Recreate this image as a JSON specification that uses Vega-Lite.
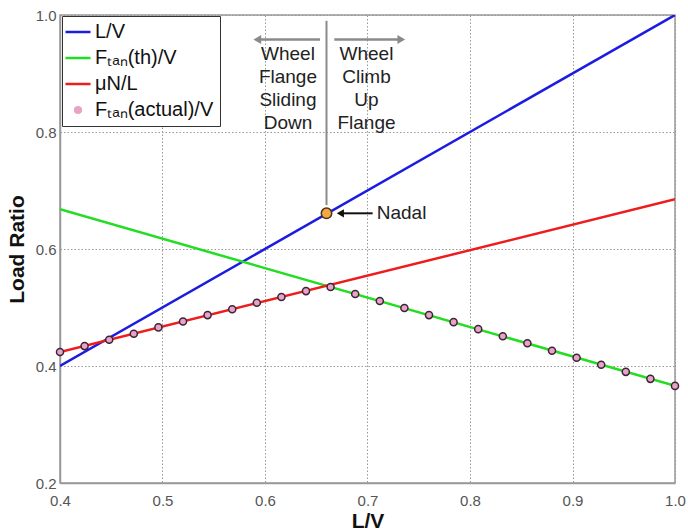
{
  "$schema": "https://vega.github.io/schema/vega-lite/v6.json",
  "width": 615,
  "height": 468,
  "autosize": {"type": "none"},
  "padding": {"left": 60, "top": 15, "right": 13, "bottom": 48},
  "config": {
    "font": "Liberation Sans",
    "view": {"stroke": "#999", "strokeWidth": 1.5},
    "axis": {
      "grid": true, "gridDash": [1.5, 2], "gridColor": "#999", "gridWidth": 1,
      "ticks": false, "domainColor": "#999", "domainWidth": 1.5, "labelFlush": false,
      "labelFontSize": 15, "labelColor": "#555", "labelFont": "Liberation Sans",
      "titleFontSize": 21, "titleFontWeight": "bold", "titleColor": "#111", "titleFont": "Liberation Sans"
    }
  },
  "datasets": {
    "lines": [
      {"series": "L/V", "x": 0.4, "y": 0.4},
      {"series": "L/V", "x": 1.0, "y": 1.0},
      {"series": "Fₜₐₙ(th)/V", "x": 0.4, "y": 0.668},
      {"series": "Fₜₐₙ(th)/V", "x": 1.0, "y": 0.366},
      {"series": "μN/L", "x": 0.4, "y": 0.424},
      {"series": "μN/L", "x": 1.0, "y": 0.685}
    ],
    "actual": [
      {"series": "Fₜₐₙ(actual)/V", "x": 0.400, "y": 0.424},
      {"series": "Fₜₐₙ(actual)/V", "x": 0.424, "y": 0.434},
      {"series": "Fₜₐₙ(actual)/V", "x": 0.448, "y": 0.445},
      {"series": "Fₜₐₙ(actual)/V", "x": 0.472, "y": 0.455},
      {"series": "Fₜₐₙ(actual)/V", "x": 0.496, "y": 0.466},
      {"series": "Fₜₐₙ(actual)/V", "x": 0.520, "y": 0.476},
      {"series": "Fₜₐₙ(actual)/V", "x": 0.544, "y": 0.487},
      {"series": "Fₜₐₙ(actual)/V", "x": 0.568, "y": 0.497},
      {"series": "Fₜₐₙ(actual)/V", "x": 0.592, "y": 0.508},
      {"series": "Fₜₐₙ(actual)/V", "x": 0.616, "y": 0.518},
      {"series": "Fₜₐₙ(actual)/V", "x": 0.640, "y": 0.528},
      {"series": "Fₜₐₙ(actual)/V", "x": 0.664, "y": 0.535},
      {"series": "Fₜₐₙ(actual)/V", "x": 0.688, "y": 0.523},
      {"series": "Fₜₐₙ(actual)/V", "x": 0.712, "y": 0.511},
      {"series": "Fₜₐₙ(actual)/V", "x": 0.736, "y": 0.499},
      {"series": "Fₜₐₙ(actual)/V", "x": 0.760, "y": 0.487},
      {"series": "Fₜₐₙ(actual)/V", "x": 0.784, "y": 0.475},
      {"series": "Fₜₐₙ(actual)/V", "x": 0.808, "y": 0.463},
      {"series": "Fₜₐₙ(actual)/V", "x": 0.832, "y": 0.451},
      {"series": "Fₜₐₙ(actual)/V", "x": 0.856, "y": 0.439},
      {"series": "Fₜₐₙ(actual)/V", "x": 0.880, "y": 0.426},
      {"series": "Fₜₐₙ(actual)/V", "x": 0.904, "y": 0.414},
      {"series": "Fₜₐₙ(actual)/V", "x": 0.928, "y": 0.402},
      {"series": "Fₜₐₙ(actual)/V", "x": 0.952, "y": 0.390},
      {"series": "Fₜₐₙ(actual)/V", "x": 0.976, "y": 0.378},
      {"series": "Fₜₐₙ(actual)/V", "x": 1.000, "y": 0.366}
    ]
  },
  "layer": [
    {
      "data": {"name": "lines"},
      "mark": {"type": "line", "strokeWidth": 2.5, "clip": true},
      "encoding": {
        "x": {"field": "x", "type": "quantitative",
              "scale": {"domain": [0.4, 1.0], "nice": false, "zero": false},
              "axis": {"values": [0.4, 0.5, 0.6, 0.7, 0.8, 0.9, 1.0], "format": ".1f", "title": "L/V", "labelPadding": 10, "titlePadding": 2}},
        "y": {"field": "y", "type": "quantitative",
              "scale": {"domain": [0.2, 1.0], "nice": false, "zero": false},
              "axis": {"values": [0.2, 0.4, 0.6, 0.8, 1.0], "format": ".1f", "title": "Load Ratio", "labelPadding": 4, "titlePadding": 8}},
        "color": {"field": "series", "type": "nominal",
                  "scale": {"domain": ["L/V", "Fₜₐₙ(th)/V", "μN/L", "Fₜₐₙ(actual)/V"],
                            "range": ["#1c1ce0", "#22dd22", "#ee1c1c", "#e9a3c9"]},
                  "legend": {
                    "title": null, "orient": "none", "legendX": 2, "legendY": 1,
                    "fillColor": "white", "strokeColor": "#333", "padding": 6,
                    "labelFontSize": 20, "labelColor": "#111", "labelFont": "Liberation Sans",
                    "symbolSize": 625, "symbolType": "stroke", "symbolStrokeWidth": 2.5,
                    "labelOffset": 7, "rowPadding": 6, "labelLimit": 300,
                    "encode": {
                      "symbols": {"update": {
                        "shape": {"signal": "datum.value === 'Fₜₐₙ(actual)/V' ? 'circle' : 'stroke'"},
                        "size": {"signal": "datum.value === 'Fₜₐₙ(actual)/V' ? 45 : 625"},
                        "fill": {"signal": "datum.value === 'Fₜₐₙ(actual)/V' ? '#e9a3c9' : 'transparent'"},
                        "stroke": {"signal": "datum.value === 'Fₜₐₙ(actual)/V' ? '#3d2535' : scale('color', datum.value)"},
                        "strokeWidth": {"signal": "datum.value === 'Fₜₐₙ(actual)/V' ? 1.5 : 2.5"}
                      }}
                    }
                  }}
      }
    },
    {
      "data": {"values": [{"x": 0.66, "y": 0.675, "y2": 0.99}]},
      "mark": {"type": "rule", "color": "#8a8a8a", "strokeWidth": 2},
      "encoding": {"x": {"field": "x", "type": "quantitative"}, "y": {"field": "y", "type": "quantitative"}, "y2": {"field": "y2"}}
    },
    {
      "data": {"values": [
        {"x": 0.5945, "x2": 0.6537, "y": 0.958},
        {"x": 0.6676, "x2": 0.731, "y": 0.958}
      ]},
      "mark": {"type": "rule", "strokeWidth": 2.5, "color": "#8a8a8a"},
      "encoding": {
        "x": {"field": "x", "type": "quantitative"}, "x2": {"field": "x2"},
        "y": {"field": "y", "type": "quantitative"}
      }
    },
    {
      "data": {"values": [
        {"x": 0.5925, "y": 0.958, "s": "triangle-left"},
        {"x": 0.733, "y": 0.958, "s": "triangle-right"}
      ]},
      "mark": {"type": "point", "filled": true, "size": 80, "opacity": 1, "color": "#8a8a8a"},
      "encoding": {
        "x": {"field": "x", "type": "quantitative"},
        "y": {"field": "y", "type": "quantitative"},
        "shape": {"field": "s", "type": "nominal", "scale": null}
      }
    },
    {
      "data": {"values": [{"x": 0.675, "x2": 0.705, "y": 0.661}]},
      "mark": {"type": "rule", "strokeWidth": 2, "color": "#111"},
      "encoding": {
        "x": {"field": "x", "type": "quantitative"}, "x2": {"field": "x2"},
        "y": {"field": "y", "type": "quantitative"}
      }
    },
    {
      "data": {"values": [{"x": 0.6735, "y": 0.661, "s": "triangle-left"}]},
      "mark": {"type": "point", "filled": true, "size": 70, "opacity": 1, "color": "#111"},
      "encoding": {
        "x": {"field": "x", "type": "quantitative"},
        "y": {"field": "y", "type": "quantitative"},
        "shape": {"field": "s", "type": "nominal", "scale": null}
      }
    },
    {
      "data": {"name": "actual"},
      "mark": {"type": "point", "filled": true, "size": 50, "stroke": "#3d2535", "strokeWidth": 1.5, "opacity": 1},
      "encoding": {
        "x": {"field": "x", "type": "quantitative"},
        "y": {"field": "y", "type": "quantitative"},
        "color": {"field": "series", "type": "nominal"}
      }
    },
    {
      "data": {"values": [{"x": 0.66, "y": 0.661}]},
      "mark": {"type": "point", "filled": true, "size": 110, "fill": "#f5a742", "stroke": "#4a3520", "strokeWidth": 1.5, "opacity": 1},
      "encoding": {"x": {"field": "x", "type": "quantitative"}, "y": {"field": "y", "type": "quantitative"}}
    },
    {
      "data": {"values": [
        {"x": 0.6224, "y": 0.933, "t": ["Wheel", "Flange", "Sliding", "Down"]},
        {"x": 0.699, "y": 0.933, "t": ["Wheel", "Climb", "Up", "Flange"]}
      ]},
      "mark": {"type": "text", "fontSize": 19, "lineHeight": 23, "align": "center", "baseline": "middle", "color": "#222"},
      "encoding": {"x": {"field": "x", "type": "quantitative"}, "y": {"field": "y", "type": "quantitative"}, "text": {"field": "t"}}
    },
    {
      "data": {"values": [{"x": 0.709, "y": 0.661, "t": "Nadal"}]},
      "mark": {"type": "text", "fontSize": 19, "align": "left", "baseline": "middle", "color": "#222"},
      "encoding": {"x": {"field": "x", "type": "quantitative"}, "y": {"field": "y", "type": "quantitative"}, "text": {"field": "t"}}
    }
  ]
}
